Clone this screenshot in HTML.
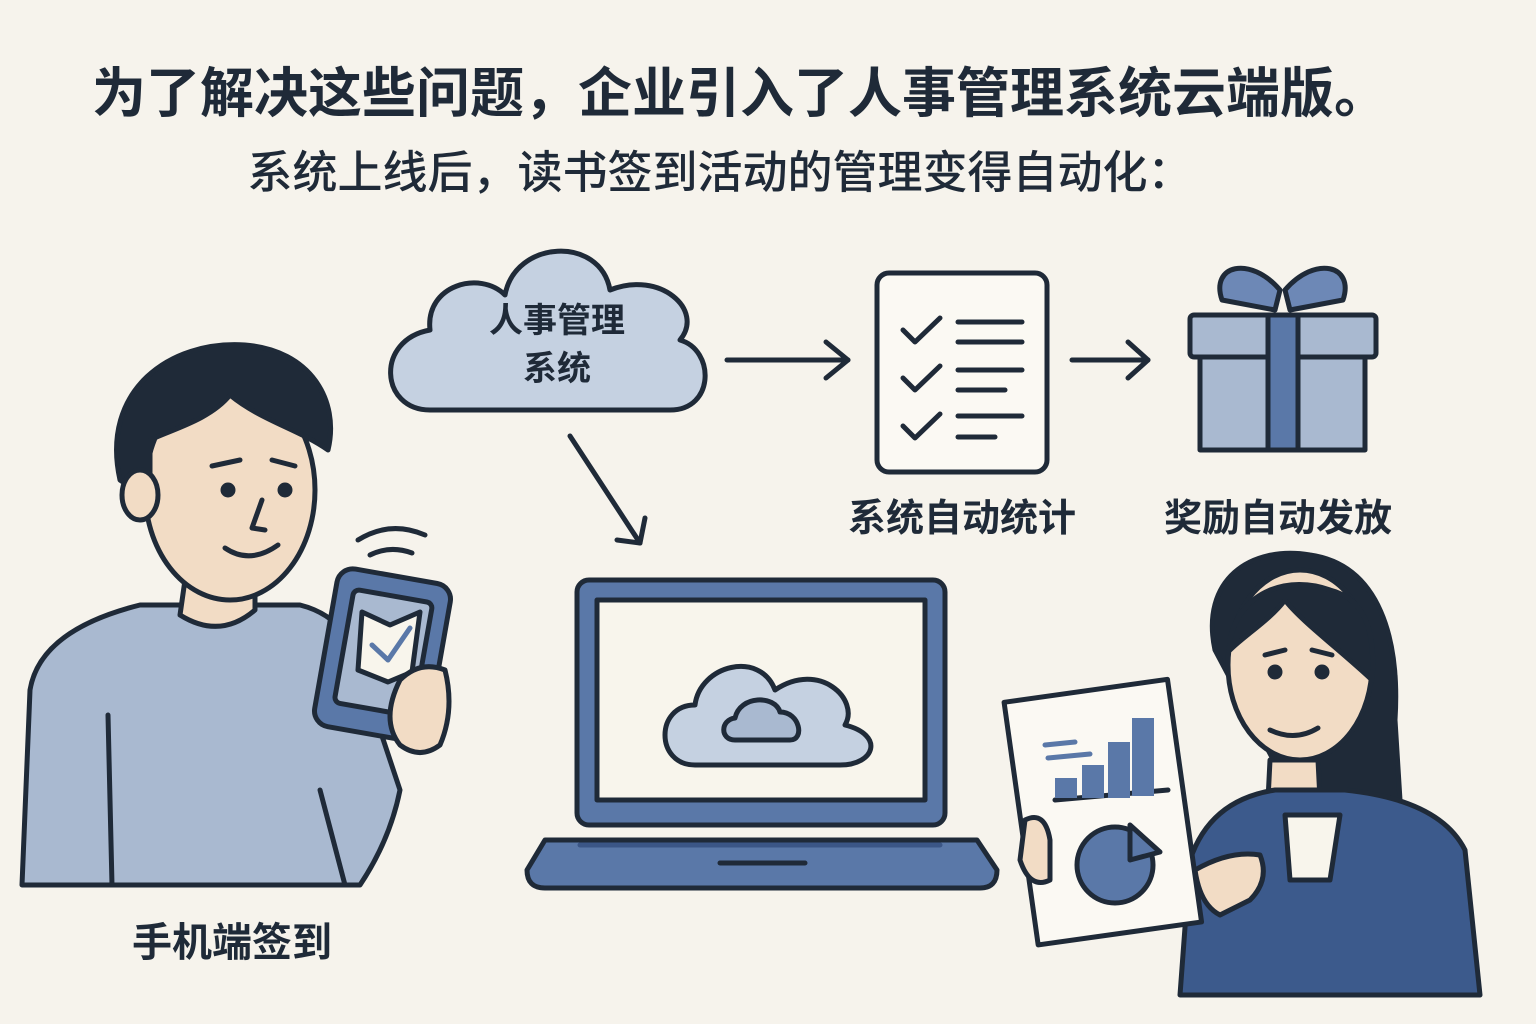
<!DOCTYPE html>
<html><head><meta charset="utf-8"><style>
html,body{margin:0;padding:0;background:#f6f3ec;}
svg{display:block}
text{font-family:"Liberation Sans","Noto Sans CJK SC",sans-serif;fill:#1f2a38;font-weight:bold}
</style></head><body>
<svg width="1536" height="1024" viewBox="0 0 1536 1024" xmlns="http://www.w3.org/2000/svg">
<rect width="1536" height="1024" fill="#f6f3ec"/>
<text x="740" y="112" font-size="54" text-anchor="middle">为了解决这些问题，企业引入了人事管理系统云端版。</text>
<text x="720" y="188" font-size="45" text-anchor="middle" style="font-weight:500">系统上线后，读书签到活动的管理变得自动化：</text>

<g stroke="#1f2a38" stroke-width="5" stroke-linecap="round" stroke-linejoin="round">
<path d="M430,410 C380,410 375,340 430,330 C425,285 480,270 505,295 C515,240 600,235 610,290 C660,270 705,310 680,340 C715,350 715,410 670,410 Z" fill="#c5d1e1"/>
<line x1="727" y1="360" x2="848" y2="360" fill="none"/><polyline points="826,342 848,360 826,378" fill="none"/>
<line x1="1072" y1="360" x2="1148" y2="360" fill="none"/><polyline points="1128,342 1148,360 1128,378" fill="none"/>
<line x1="570" y1="436" x2="640" y2="543" fill="none"/><polyline points="617,540 640,543 645,518" fill="none"/>
<rect x="877" y="273" width="170" height="199" rx="12" fill="#fbf9f3"/>
<polyline points="903,330 915,342 940,318" fill="none"/><line x1="958" y1="322" x2="1022" y2="322"/><line x1="958" y1="342" x2="1022" y2="342"/>
<polyline points="903,378 915,390 940,366" fill="none"/><line x1="958" y1="370" x2="1022" y2="370"/><line x1="958" y1="390" x2="1005" y2="390"/>
<polyline points="903,426 915,438 940,414" fill="none"/><line x1="958" y1="416" x2="1022" y2="416"/><line x1="958" y1="437" x2="995" y2="437"/>
<path d="M1280,290 C1250,255 1210,265 1222,300 L1275,310 Z" fill="#6d88b6"/>
<path d="M1285,290 C1315,255 1355,265 1343,300 L1290,310 Z" fill="#6d88b6"/>
<rect x="1200" y="355" width="165" height="95" fill="#a9b9d0"/>
<rect x="1190" y="315" width="186" height="42" rx="4" fill="#a9b9d0"/>
<rect x="1268" y="315" width="30" height="135" fill="#5a78a8"/>
<rect x="577" y="580" width="368" height="245" rx="12" fill="#5a78a8"/>
<rect x="597" y="600" width="328" height="200" fill="#f8f5ec"/>
<path d="M545,840 L977,840 L997,870 Q997,888 980,888 L545,888 Q527,888 527,870 Z" fill="#5a78a8"/>
<line x1="580" y1="845" x2="940" y2="845" stroke="#3b5686"/>
<line x1="720" y1="863" x2="805" y2="863"/>
<path d="M695,765 C655,765 655,705 695,705 C700,665 760,650 775,690 C820,660 860,700 845,725 C885,735 875,765 840,765 Z" fill="#c5d1e1"/>
<path d="M735,740 C720,740 720,720 735,718 C740,695 775,695 780,712 C800,712 805,740 790,740 Z" fill="#a9b9d0"/>
<path d="M22,885 L30,690 Q40,630 140,605 L300,605 Q360,620 370,700 L400,790 Q390,840 360,885 Z" fill="#a9b9d0"/>
<line x1="108" y1="715" x2="112" y2="885"/><line x1="320" y1="790" x2="345" y2="885"/>
<path d="M185,580 L180,615 Q220,640 255,610 L255,575 Z" fill="#f2dcc5"/>
<ellipse cx="230" cy="490" rx="85" ry="110" fill="#f2dcc5"/>
<path d="M120,480 C100,390 170,340 245,345 C310,350 340,400 328,450 C300,430 260,420 230,395 C210,420 170,430 150,440 L150,500 Z" fill="#1f2a38"/>
<ellipse cx="140" cy="495" rx="18" ry="25" fill="#f2dcc5"/>
<line x1="212" y1="466" x2="240" y2="460"/><line x1="272" y1="460" x2="295" y2="466"/>
<circle cx="228" cy="490" r="5" fill="#1f2a38"/><circle cx="285" cy="490" r="5" fill="#1f2a38"/>
<path d="M262,500 L252,528 L265,530" fill="none"/><path d="M225,548 Q250,565 278,545" fill="none"/>
<path d="M358,540 Q390,520 425,535" fill="none"/><path d="M370,555 Q390,545 412,553" fill="none"/>
<rect x="325" y="575" width="115" height="160" rx="16" fill="#5a78a8" transform="rotate(10 382 655)"/>
<rect x="343" y="595" width="80" height="115" rx="6" fill="#a9b9d0" transform="rotate(10 382 655)"/>
<path d="M362,612 L390,625 L420,612 L412,672 L388,682 L358,670 Z" fill="#f8f5ec"/>
<polyline points="372,645 388,660 410,628" fill="none" stroke="#5a78a8"/>
<path d="M400,680 Q420,660 445,670 Q455,710 440,745 Q420,760 400,745 Q380,720 400,680 Z" fill="#f2dcc5"/>
<path d="M1215,650 C1200,580 1250,545 1310,555 C1380,565 1400,640 1395,720 L1400,800 L1300,810 Z" fill="#1f2a38"/>
<ellipse cx="1300" cy="665" rx="72" ry="95" fill="#f2dcc5"/>
<path d="M1230,640 C1240,590 1290,575 1330,590 C1370,600 1375,640 1372,680 C1340,650 1300,620 1285,600 C1270,620 1245,635 1230,650 Z" fill="#1f2a38"/>
<path d="M1270,760 L1268,800 L1320,800 L1318,760 Z" fill="#f2dcc5"/>
<path d="M1180,995 L1190,860 Q1210,800 1275,790 L1345,790 Q1440,800 1465,850 L1480,995 Z" fill="#3c5a8c"/>
<path d="M1285,815 L1340,815 L1330,880 L1290,880 Z" fill="#f8f5ec"/>
<line x1="1265" y1="655" x2="1285" y2="650"/><line x1="1312" y1="650" x2="1332" y2="655"/>
<circle cx="1275" cy="672" r="5" fill="#1f2a38"/><circle cx="1322" cy="672" r="5" fill="#1f2a38"/>
<path d="M1270,730 Q1295,742 1318,728" fill="none"/>
<rect x="1020" y="690" width="165" height="245" fill="#fbf9f3" transform="rotate(-8 1100 810)"/>
<line x1="1055" y1="800" x2="1168" y2="790"/>
<rect x="1055" y="778" width="22" height="20" fill="#5a78a8" stroke="none"/>
<rect x="1082" y="765" width="22" height="33" fill="#5a78a8" stroke="none"/>
<rect x="1108" y="742" width="22" height="56" fill="#5a78a8" stroke="none"/>
<rect x="1132" y="718" width="22" height="78" fill="#5a78a8" stroke="none"/>
<line x1="1045" y1="745" x2="1075" y2="742" stroke="#5a78a8"/><line x1="1048" y1="758" x2="1090" y2="754" stroke="#5a78a8"/>
<circle cx="1115" cy="865" r="38" fill="#5a78a8"/>
<path d="M1130,825 L1160,852 L1130,860 Z" fill="#5a78a8"/>
<path d="M1195,870 Q1230,850 1260,855 Q1270,880 1250,900 L1220,915 Q1200,905 1195,870 Z" fill="#f2dcc5"/>
<path d="M1025,820 Q1045,810 1050,840 L1050,880 Q1030,890 1020,860 Z" fill="#f2dcc5"/>
</g>
<text x="557" y="332" font-size="34" text-anchor="middle">人事管理</text>
<text x="557" y="380" font-size="34" text-anchor="middle">系统</text>
<text x="962" y="531" font-size="38" text-anchor="middle">系统自动统计</text>
<text x="1278" y="531" font-size="38" text-anchor="middle">奖励自动发放</text>
<text x="232" y="956" font-size="40" text-anchor="middle">手机端签到</text>
</svg>
</body></html>
